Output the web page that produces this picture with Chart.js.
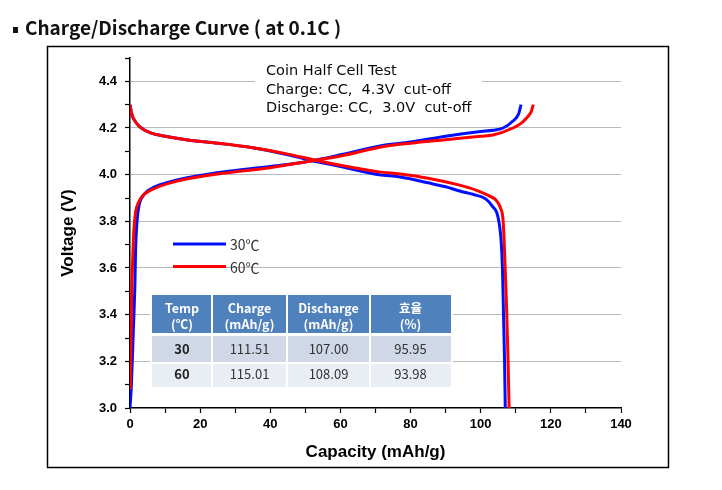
<!DOCTYPE html>
<html>
<head>
<meta charset="utf-8">
<script src="https://cdn.jsdelivr.net/npm/chart.js@4.4.1/dist/chart.umd.min.js"></script>
<style>
  html, body { margin: 0; padding: 0; background: #fff; }
  canvas { display: block; }
</style>
</head>
<body>
<canvas id="curveChart" width="722" height="490"></canvas>
<script>
// values: capacity (mAh/g) vs voltage (V)
const charge30Cap = [0, 0.4, 0.95, 1.4, 1.6, 2.0, 2.6, 3.3, 5, 11.5, 26, 40, 52, 60, 72, 80, 90, 100, 103.5, 106.4, 109.2, 110.8, 111.5];
const charge30V = [3.0, 3.1, 3.33, 3.53, 3.68, 3.80, 3.87, 3.90, 3.93, 3.97, 4.01, 4.035, 4.06, 4.085, 4.125, 4.14, 4.165, 4.185, 4.19, 4.20, 4.23, 4.26, 4.30];
const discharge30Cap = [0, 0.4, 1.2, 2.8, 5.7, 10, 16, 25, 35, 45, 52, 60, 71, 77, 85, 90, 94, 98, 101.5, 103.3, 104.9, 105.8, 106.2, 106.5, 106.8, 107.0];
const discharge30V = [4.30, 4.265, 4.235, 4.205, 4.18, 4.165, 4.15, 4.135, 4.115, 4.085, 4.06, 4.035, 4.00, 3.99, 3.965, 3.948, 3.93, 3.915, 3.895, 3.865, 3.82, 3.72, 3.60, 3.40, 3.20, 3.0];

const charge60Cap = [0.05, 0.3, 0.5, 0.8, 1.1, 1.6, 2.4, 3.6, 5.5, 11.5, 26, 40, 52, 60, 72, 80, 90, 100, 103.5, 109.2, 111.5, 113.2, 114.4, 115.0];
const charge60V = [3.08, 3.3, 3.5, 3.65, 3.76, 3.84, 3.88, 3.91, 3.93, 3.965, 4.005, 4.03, 4.06, 4.08, 4.12, 4.135, 4.15, 4.165, 4.17, 4.20, 4.22, 4.245, 4.27, 4.30];
const discharge60Cap = [0, 0.4, 1.2, 2.8, 5.7, 10, 16, 25, 35, 45, 52, 60, 71, 77, 85, 94, 99, 102, 104.4, 105.7, 106.4, 106.9, 107.4, 107.8, 108.1];
const discharge60V = [4.30, 4.265, 4.235, 4.205, 4.18, 4.165, 4.15, 4.135, 4.115, 4.088, 4.065, 4.04, 4.012, 4.003, 3.985, 3.955, 3.932, 3.912, 3.89, 3.855, 3.80, 3.63, 3.42, 3.20, 3.0];

const seriesNames = ['30℃', '60℃'];
const seriesColors = ['#0010ff', '#ff0000'];

// table
const tableHeads = [['Temp', '(℃)'], ['Charge', '(mAh/g)'], ['Discharge', '(mAh/g)'], ['효율', '(%)']];
const tableTemps = ['30', '60'];
const tableCharge = [111.51, 115.01];
const tableDischarge = [107.00, 108.09];
const tableEfficiency = [95.95, 93.98];

const notes = ['Coin Half Cell Test', 'Charge: CC,  4.3V  cut-off', 'Discharge: CC,  3.0V  cut-off'];
const chartTitle = 'Charge/Discharge Curve ( at 0.1C )';

const toPoints = (xs, ys) => xs.map((x, i) => ({ x: x, y: ys[i] }));
const lineSet = (xs, ys, color) => ({
  data: toPoints(xs, ys),
  borderColor: color,
  borderWidth: 3,
  pointRadius: 0,
  fill: false,
  cubicInterpolationMode: 'monotone'
});

const KR = '"Noto Sans CJK KR", "Noto Sans", sans-serif';
const ARIAL = '"Liberation Sans", Arial, sans-serif';

const decor = {
  id: 'decor',
  beforeDraw(chart) {
    const c = chart.ctx;
    c.save();
    c.fillStyle = '#fff';
    c.fillRect(0, 0, chart.width, chart.height);
    c.restore();
  },
  afterDraw(chart) {
    const c = chart.ctx;
    c.save();

    // outer frame
    c.strokeStyle = '#000';
    c.lineWidth = 1.5;
    c.strokeRect(47.5, 46.5, 621, 421);

    // page title
    c.fillStyle = '#111';
    c.fillRect(13, 27, 5, 6);
    c.font = 'bold 19px ' + KR;
    c.textBaseline = 'alphabetic';
    c.textAlign = 'left';
    c.fillText(chartTitle, 25, 35);

    // test conditions note
    c.fillStyle = '#fff';
    c.fillRect(255, 60, 227, 56);
    c.fillStyle = '#0a0a0a';
    c.font = '14.5px "DejaVu Sans", sans-serif';
    notes.forEach((t, i) => c.fillText(t, 266, 75 + i * 18.5));

    // legend
    const legY = [244, 266.5];
    seriesNames.forEach((name, i) => {
      c.strokeStyle = seriesColors[i];
      c.lineWidth = 3;
      c.beginPath();
      c.moveTo(173, legY[i]);
      c.lineTo(226, legY[i]);
      c.stroke();
      c.fillStyle = '#333';
      c.font = '14px ' + KR;
      c.textBaseline = 'middle';
      c.fillText(name, 230, legY[i] + 1);
    });

    // results table
    const cols = [152, 212, 287, 370, 451];
    const rows = [[295, 333], [336, 362], [364, 387]];
    const fills = ['#4f81bd', '#d0d8e8', '#e9edf4'];
    c.fillStyle = '#fff';
    c.fillRect(150, 293, 303, 96);
    rows.forEach((r, ri) => {
      for (let j = 0; j < 4; j++) {
        c.fillStyle = fills[ri];
        const x0 = cols[j] + (j > 0 ? 1 : 0);
        c.fillRect(x0, r[0], cols[j + 1] - x0 - (j < 3 ? 1 : 0), r[1] - r[0]);
      }
    });
    const mid = j => (cols[j] + cols[j + 1]) / 2;
    c.textAlign = 'center';
    c.textBaseline = 'middle';
    c.fillStyle = '#fff';
    c.font = 'bold 12.5px ' + KR;
    tableHeads.forEach((h, j) => {
      c.fillText(h[0], mid(j), 308);
      c.fillText(h[1], mid(j), 324);
    });
    const rowY = [349, 374];
    tableTemps.forEach((t, i) => {
      c.fillStyle = '#222';
      c.font = 'bold 13px ' + KR;
      c.fillText(t, mid(0), rowY[i]);
      c.fillStyle = '#333';
      c.font = '13px ' + KR;
      c.fillText(tableCharge[i].toFixed(2), mid(1), rowY[i]);
      c.fillText(tableDischarge[i].toFixed(2), mid(2), rowY[i]);
      c.fillText(tableEfficiency[i].toFixed(2), mid(3), rowY[i]);
    });

    c.restore();
  }
};

const majorY = v => {
  const k = Math.round(v * 10);
  return k % 2 === 0 && k > 30 && k < 45;
};

new Chart(document.getElementById('curveChart'), {
  type: 'line',
  data: {
    datasets: [
      lineSet(charge60Cap, charge60V, seriesColors[1]),
      lineSet(discharge60Cap, discharge60V, seriesColors[1]),
      lineSet(charge30Cap, charge30V, seriesColors[0]),
      lineSet(discharge30Cap, discharge30V, seriesColors[0])
    ]
  },
  options: {
    responsive: false,
    animation: false,
    events: [],
    layout: {
      padding: { left: 47, right: 101, top: 58, bottom: 22 }
    },
    plugins: {
      legend: { display: false },
      tooltip: { enabled: false }
    },
    scales: {
      x: {
        type: 'linear',
        min: 0,
        max: 140,
        afterFit: s => { s.height = 60; },
        border: { color: '#000', width: 1.5 },
        grid: { color: 'rgba(0,0,0,0)', tickColor: '#000', tickLength: 5, tickWidth: 1.2 },
        ticks: {
          stepSize: 10,
          autoSkip: false,
          maxRotation: 0,
          padding: 4,
          color: '#000',
          font: { family: ARIAL, size: 13, weight: 'bold' },
          callback: v => (Math.round(v) % 20 === 0 ? String(Math.round(v)) : '')
        },
        title: {
          display: true,
          text: 'Capacity (mAh/g)',
          color: '#000',
          font: { family: ARIAL, size: 17, weight: 'bold' },
          padding: { top: 0, bottom: 5 }
        }
      },
      y: {
        type: 'linear',
        min: 3.0,
        max: 4.5,
        afterFit: s => { s.width = 83; },
        border: { color: '#000', width: 1.5 },
        grid: {
          color: ctx => (ctx.tick && majorY(ctx.tick.value) ? '#b8b8b8' : 'rgba(0,0,0,0)'),
          lineWidth: 1,
          tickColor: '#000',
          tickLength: 5,
          tickWidth: 1.2
        },
        ticks: {
          stepSize: 0.1,
          autoSkip: false,
          padding: 8,
          color: '#000',
          font: { family: ARIAL, size: 13, weight: 'bold' },
          callback: v => {
            const k = Math.round(v * 10);
            return k % 2 === 0 && k < 45 ? (k / 10).toFixed(1) : '';
          }
        },
        title: {
          display: true,
          text: 'Voltage (V)',
          color: '#000',
          font: { family: ARIAL, size: 17, weight: 'bold' },
          padding: { top: 11, bottom: 0 }
        }
      }
    }
  },
  plugins: [decor]
});
</script>
</body>
</html>
